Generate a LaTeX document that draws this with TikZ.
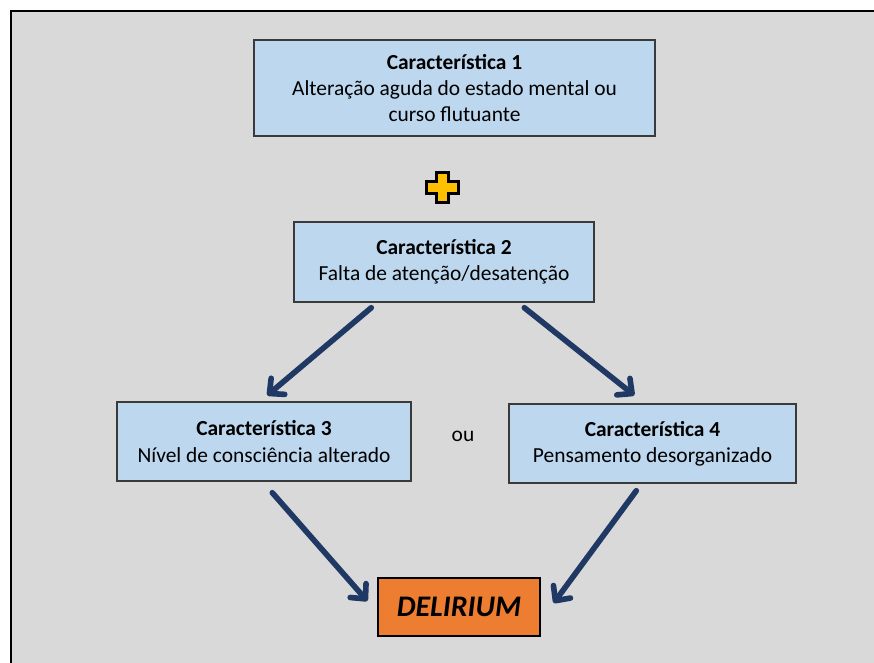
\documentclass[tikz,border=0pt]{standalone}
\usepackage{fontspec}
\setmainfont{Carlito}
\usetikzlibrary{arrows.meta,calc}
\definecolor{panelgray}{HTML}{D9D9D9}
\definecolor{boxblue}{HTML}{BDD7EE}
\definecolor{boxedge}{HTML}{3A3A3A}
\definecolor{arrowblue}{HTML}{1F3864}
\definecolor{dlorange}{HTML}{ED7D31}
\definecolor{plusyellow}{HTML}{FFC000}
\begin{document}
\begin{tikzpicture}[x=0.03cm,y=-0.03cm,
  featbox/.style={draw=boxedge,line width=1.2pt,fill=boxblue,align=center,
    inner sep=0pt,font=\fontsize{18.3}{22.5}\selectfont},
  arr/.style={draw=arrowblue,line width=4.8pt,
    -{Straight Barb[length=9.5pt,width=18pt,line width=4.8pt,round]},line cap=round}]
  \useasboundingbox (0,0) rectangle (874,662);
  % gray panel
  \draw[fill=panelgray,line width=1.6pt] (11,11) rectangle (884,672);
  % boxes
  \node[featbox,minimum width=12.03cm,minimum height=2.88cm] (b1) at (454.5,88)
    {\textbf{Característica 1}\\Alteração aguda do estado mental ou\\curso flutuante};
  \node[featbox,minimum width=9.0cm,minimum height=2.4cm] (b2) at (444,262)
    {\textbf{Característica 2}\\Falta de atenção/desatenção};
  \node[featbox,minimum width=8.82cm,minimum height=2.37cm] (b3) at (264,441.5)
    {\textbf{Característica 3}\\Nível de consciência alterado};
  \node[featbox,minimum width=8.61cm,minimum height=2.37cm] (b4) at (652.5,443.5)
    {\textbf{Característica 4}\\Pensamento desorganizado};
  \node[font=\fontsize{18.3}{20}\selectfont] (ou) at (463,436) {ou};
  \node[draw=black,line width=1.2pt,fill=dlorange,minimum width=4.86cm,
    minimum height=1.74cm,inner sep=0pt,font=\fontsize{25.5}{30}\selectfont\bfseries\itshape]
    (dl) at (459,607) {DELIRIUM};
  % plus sign
  \node[inner sep=0pt,minimum size=0pt] (plus) at (442.5,187.5) {};
  \draw[fill=plusyellow,line width=2.2pt,line join=miter]
    ($(plus)+(-6,-15)$) -- ($(plus)+(6,-15)$) -- ($(plus)+(6,-6)$) -- ($(plus)+(16,-6)$)
    -- ($(plus)+(16,6)$) -- ($(plus)+(6,6)$) -- ($(plus)+(6,15)$) -- ($(plus)+(-6,15)$)
    -- ($(plus)+(-6,6)$) -- ($(plus)+(-16,6)$) -- ($(plus)+(-16,-6)$) -- ($(plus)+(-6,-6)$) -- cycle;
  % arrows
  \draw[arr] ($(b2.south west)+(78,5)$) -- ($(b3.north west)+(151,-6)$);
  \draw[arr] ($(b2.south west)+(231,5)$) -- ($(b4.north west)+(126,-8)$);
  \draw[arr] ($(b3.south west)+(156,11)$) -- ($(dl.west)+(-10,-6)$);
  \draw[arr] ($(b4.south west)+(128,7)$) -- ($(dl.east)+(13,-4)$);
\end{tikzpicture}
\end{document}
